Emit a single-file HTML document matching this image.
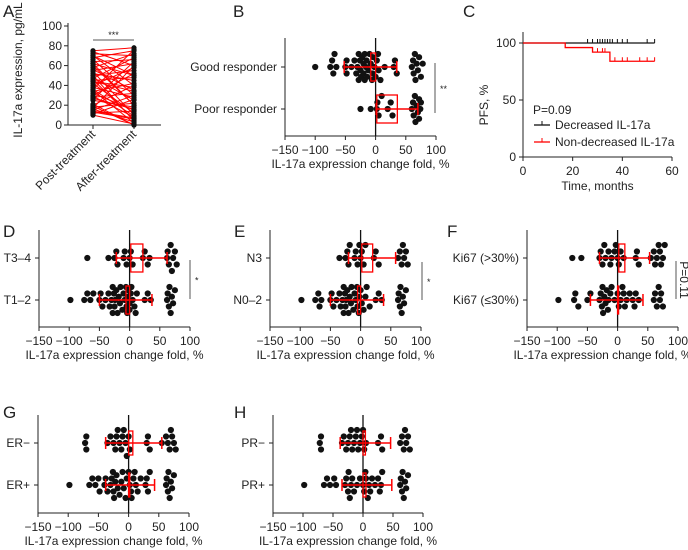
<!DOCTYPE html>
<html><head><meta charset="utf-8"><style>
html,body{margin:0;padding:0;background:#fff;}
svg{display:block;font-family:"Liberation Sans",Arial,sans-serif;}
</style></head><body>
<svg id="fig" width="688" height="550" viewBox="0 0 688 550" xmlns="http://www.w3.org/2000/svg"></svg>
<script>
// ---------- DATA ----------
const aPost  = [75,74,72,70,68,66,64,62,60,58,56,55,54,52,50,48,47,46,45,44,42,40,38,36,35,34,32,30,29,28,26,25,20,19,18,17,16,15,13,12,11,10,70,62,50,44,36,27,21,14];
const aAfter = [78,60,70,40,75,30,66,50,20,72,35,62,10,45,55,25,68,5,48,38,12,58,28,76,2,42,15,52,8,32,64,18,40,0,22,60,3,30,6,14,26,1,50,20,4,34,9,16,0,7];
const tickVals = [-150,-100,-50,0,50,100];
const bGood = [-100,-75,-72,-70,-68,-65,-50,-48,-48,-40,-35,-32,-30,-28,-28,-26,-25,-24,-22,-20,-20,-18,-18,-16,-15,-14,-12,-10,-8,-6,-5,-4,-2,0,2,4,5,8,15,30,32,35,60,62,63,65,66,68,70,72,75,78];
const bPoor = [-25,-8,2,3,5,10,20,25,28,60,62,63,65,66,68,70,72,72,74,75];
const dT34 = [-70,-35,-25,-22,-20,-10,-8,-5,0,2,5,22,25,30,33,62,63,65,68,70,72,75,78];
const dT12 = [-98,-75,-70,-65,-60,-50,-48,-45,-40,-35,-33,-30,-28,-28,-26,-25,-24,-22,-20,-18,-16,-15,-12,-10,-8,-6,-5,-4,-3,-2,0,0,2,3,5,8,10,12,25,30,35,62,63,65,66,68,70,72,75];
const eN3 = [-35,-25,-22,-20,-18,-10,-8,-5,-2,0,2,5,8,22,25,30,62,65,68,70,72,75,78];
const eN02 = [-98,-75,-70,-68,-65,-50,-48,-45,-40,-35,-33,-30,-28,-28,-26,-25,-24,-22,-20,-18,-16,-15,-12,-10,-8,-6,-5,-3,-2,0,2,5,8,10,15,25,30,35,62,63,65,66,68,70,72,75];
const fHigh = [-75,-60,-30,-28,-25,-22,-20,-15,-12,-10,-5,-3,0,2,5,10,30,32,35,55,60,62,65,68,70,72,75,78];
const fLow = [-98,-72,-70,-65,-50,-45,-30,-28,-26,-25,-24,-22,-20,-18,-16,-15,-12,-10,-5,0,2,5,8,10,12,15,20,25,28,30,35,60,62,65,68,70,72,75];
const gNeg = [-72,-70,-70,-35,-30,-25,-22,-20,-18,-15,-12,-10,-8,-5,-3,0,2,30,32,35,55,62,65,68,70,72,75,78];
const gPos = [-98,-65,-60,-55,-50,-48,-40,-38,-35,-30,-28,-26,-25,-24,-22,-20,-18,-15,-12,-10,-8,-5,-3,0,2,4,5,8,10,12,15,20,28,30,32,35,62,63,65,66,68,70,72,75];
const hNeg = [-72,-70,-70,-35,-32,-28,-25,-22,-20,-18,-15,-12,-10,-8,-5,-2,0,2,5,25,30,32,62,65,68,70,72,75,78];
const hPos = [-98,-65,-60,-55,-48,-45,-30,-28,-25,-24,-22,-20,-18,-15,-10,-5,0,2,4,5,8,10,12,15,20,25,28,30,32,62,63,65,66,68,70,72,75];
// box/whisker summaries: [boxLo, boxHi, whiskLo, whiskHi]
const bGoodSum=[-8,0,-52,35], bPoorSum=[2,36,1,70];
const dT34Sum=[2,22,-22,62], dT12Sum=[-6,0,-50,37];
const eN3Sum=[2,20,-20,58], eN02Sum=[-5,0,-50,38];
const fHighSum=[2,12,-30,53], fLowSum=[0,1,-45,42];
const gNegSum=[0,7,-38,55], gPosSum=[0,2,-38,43];
const hNegSum=[0,4,-38,46], hPosSum=[0,5,-35,48];
// KM
const kmBlackCensor=[26,28,30,31,32,33,34,35,36,38,40,42,50,53];
const kmRedTimes=[0,17,28,35], kmRedVals=[100,96,92,84], kmRedEnd=53;
const kmRedCensor=[30,32,33,37,40,42,47,50,53];

// ---------- DRAW ----------
const NS="http://www.w3.org/2000/svg";
const svg=document.getElementById('fig');
function el(tag,attrs,parent,text){const e=document.createElementNS(NS,tag);for(const k in attrs)e.setAttribute(k,attrs[k]);if(text!==undefined)e.textContent=text;(parent||svg).appendChild(e);return e;}
const TXT='#222';

function panelLetter(t,x,y){const e=el('text',{x:x,y:y,'font-size':17,fill:TXT},svg,t);

}

// Panel A
(function(){
 const g=el('g',{});
 
 
 const X0=68,X1=161,Y0=125,Y100=26,xp=93,xa=134;
 const ys=v=>Y0+(Y100-Y0)*v/100;
 el('line',{x1:X0,y1:Y100-3,x2:X0,y2:Y0,stroke:'#222','stroke-width':1},g);
 el('line',{x1:X0,y1:Y0,x2:X1,y2:Y0,stroke:'#222','stroke-width':1},g);
 [0,20,40,60,80,100].forEach(v=>{el('line',{x1:X0-4,y1:ys(v),x2:X0,y2:ys(v),stroke:'#222'},g);
  const t=el('text',{x:X0-6,y:ys(v)+4,'text-anchor':'end','font-size':12,fill:TXT},g,v);
  });
 [xp,xa].forEach(x=>el('line',{x1:x,y1:Y0,x2:x,y2:Y0+4,stroke:'#222'},g));
 for(let i=0;i<aPost.length;i++){
  const l=el('line',{x1:xp,y1:ys(aPost[i]),x2:xa,y2:ys(aAfter[i]),stroke:'#f00','stroke-width':1},g);
  }
 aPost.forEach(v=>{const c=el('circle',{cx:xp,cy:ys(v),r:2.6,fill:'#111'},g);});
 aAfter.forEach(v=>{const c=el('circle',{cx:xa,cy:ys(v),r:2.6,fill:'#111'},g);});
 el('line',{x1:xp,y1:40,x2:xa,y2:40,stroke:'#555'},g);
 el('text',{x:(xp+xa)/2,y:38,'text-anchor':'middle','font-size':9,fill:TXT},g,'***');
 const yt=el('text',{transform:'translate(22,70) rotate(-90)','text-anchor':'middle','font-size':12,fill:TXT},g,'IL-17a expression, pg/mL');
 
 [['Post-treatment',xp],['After-treatment',xa]].forEach(([s,x])=>{
  const t=el('text',{transform:`translate(${x+3},${Y0+10}) rotate(-45)`,'text-anchor':'end','font-size':12,fill:TXT},g,s);
  });
})();
panelLetter('A',3,17);

// beeswarm layout with bounded vertical spread
function swarm(vals,sx,r){
 const pts=[];const sorted=[...vals].sort((a,b)=>a-b);
 const offs=[0,-6.5,6.5,-13,13,-3.3,3.3,-9.8,9.8];
 sorted.forEach(v=>{const x=sx(v);let best=0,bestD=-1;
  for(const o of offs){
   let md=1e9;pts.forEach(p=>{const d=Math.hypot(p.x-x,p.y-o);if(d<md)md=d;});
   if(md>=2*r-0.3){best=o;bestD=md;break;}
   if(md>bestD){bestD=md;best=o;}
  }
  pts.push({x:x,y:best});});
 return pts;}

function dotPanel(cfg){
 const g=el('g',{});
 
 
 const sx=v=>cfg.x0+(v+150)/250*(cfg.x1-cfg.x0);
 el('line',{x1:cfg.x0,y1:cfg.top,x2:cfg.x0,y2:cfg.base,stroke:'#222'},g);
 el('line',{x1:cfg.x0,y1:cfg.base,x2:cfg.x1,y2:cfg.base,stroke:'#222'},g);
 tickVals.forEach(v=>{el('line',{x1:sx(v),y1:cfg.base,x2:sx(v),y2:cfg.base+4,stroke:'#222'},g);
  const t=el('text',{x:sx(v),y:cfg.base+18,'text-anchor':'middle','font-size':12,fill:TXT},g,v<0?'\u2212'+(-v):v);
  });
 const xt=el('text',{x:(cfg.x0+cfg.x1)/2,y:cfg.base+32,'text-anchor':'middle','font-size':12,fill:TXT},g,'IL-17a expression change fold, %');
 
 el('line',{x1:sx(0),y1:cfg.top,x2:sx(0),y2:cfg.base,stroke:'#111','stroke-width':1.3},g);
 cfg.rows.forEach(row=>{
  el('line',{x1:cfg.x0-4,y1:row.y,x2:cfg.x0,y2:row.y,stroke:'#222'},g);
  const t=el('text',{x:cfg.x0-8,y:row.y+4,'text-anchor':'end','font-size':12,fill:TXT},g,row.label);
  
  swarm(row.vals,sx,3.1).forEach(p=>{const c=el('circle',{cx:p.x,cy:row.y+p.y,r:3.1,fill:'#111'},g);
   });
  const s=row.sum,h=cfg.bh;
  const b=el('rect',{x:sx(s[0]),y:row.y-h,width:Math.max(1,sx(s[1])-sx(s[0])),height:2*h,fill:'none',stroke:'#f00','stroke-width':1.3},g);
  
  const w=el('line',{x1:sx(s[2]),y1:row.y,x2:sx(s[3]),y2:row.y,stroke:'#f00','stroke-width':1.5},g);
  
  [s[2],s[3]].forEach(v=>el('line',{x1:sx(v),y1:row.y-6,x2:sx(v),y2:row.y+6,stroke:'#f00','stroke-width':1.5},g));
 });
 if(cfg.sig){const q=cfg.sig;
  el('line',{x1:q.x,y1:q.y1,x2:q.x,y2:q.y2,stroke:'#555'},g);
  if(q.rot){const t=el('text',{transform:`translate(${q.x+4},${(q.y1+q.y2)/2}) rotate(90)`,'text-anchor':'middle','font-size':12,fill:TXT},g,q.text);}
  else {const t=el('text',{x:q.x+5,y:(q.y1+q.y2)/2+4,'font-size':9,fill:TXT},g,q.text);}
 }
}
dotPanel({name:'panel-b-responder',x0:285,x1:436,top:38,base:136,bh:14,rows:[{label:'Good responder',y:67,vals:bGood,sum:bGoodSum},{label:'Poor responder',y:109,vals:bPoor,sum:bPoorSum}],sig:{x:435,y1:63,y2:113,text:'**'}});
dotPanel({name:'panel-d-t-stage',x0:39,x1:190,top:230,base:327,bh:14,rows:[{label:'T3\u20134',y:258,vals:dT34,sum:dT34Sum},{label:'T1\u20132',y:300,vals:dT12,sum:dT12Sum}],sig:{x:190,y1:260,y2:299,text:'*'}});
dotPanel({name:'panel-e-n-stage',x0:270,x1:421,top:230,base:327,bh:14,rows:[{label:'N3',y:258,vals:eN3,sum:eN3Sum},{label:'N0\u20132',y:300,vals:eN02,sum:eN02Sum}],sig:{x:422,y1:262,y2:300,text:'*'}});
dotPanel({name:'panel-f-ki67',x0:527,x1:678,top:230,base:327,bh:14,rows:[{label:'Ki67 (>30%)',y:258,vals:fHigh,sum:fHighSum},{label:'Ki67 (\u226430%)',y:300,vals:fLow,sum:fLowSum}],sig:{x:676,y1:261,y2:299,text:'P=0.11',rot:true}});
dotPanel({name:'panel-g-er',x0:38,x1:189,top:415,base:513,bh:12,rows:[{label:'ER\u2212',y:443,vals:gNeg,sum:gNegSum},{label:'ER+',y:485,vals:gPos,sum:gPosSum}]});
dotPanel({name:'panel-h-pr',x0:273,x1:423,top:415,base:513,bh:12,rows:[{label:'PR\u2212',y:443,vals:hNeg,sum:hNegSum},{label:'PR+',y:485,vals:hPos,sum:hPosSum}]});
panelLetter('B',233,17);panelLetter('C',463,17);
panelLetter('D',3,237);panelLetter('E',234,237);panelLetter('F',447,237);
panelLetter('G',3,418);panelLetter('H',234,418);

// Panel C KM
(function(){
 const g=el('g',{});
 
 
 const X0=523,X60=672,Y0=157,Y100=43;
 const sx=t=>X0+(X60-X0)*t/60, sy=v=>Y0+(Y100-Y0)*v/100;
 el('line',{x1:X0,y1:32,x2:X0,y2:Y0,stroke:'#222'},g);
 el('line',{x1:X0,y1:Y0,x2:X60,y2:Y0,stroke:'#222'},g);
 [0,50,100].forEach(v=>{el('line',{x1:X0-4,y1:sy(v),x2:X0,y2:sy(v),stroke:'#222'},g);
  const t=el('text',{x:X0-7,y:sy(v)+4,'text-anchor':'end','font-size':12,fill:TXT},g,v);});
 [0,20,40,60].forEach(v=>{el('line',{x1:sx(v),y1:Y0,x2:sx(v),y2:Y0+4,stroke:'#222'},g);
  const t=el('text',{x:sx(v),y:Y0+18,'text-anchor':'middle','font-size':12,fill:TXT},g,v);});
 const xt=el('text',{x:(X0+X60)/2,y:Y0+33,'text-anchor':'middle','font-size':12,fill:TXT},g,'Time, months');
 const yt=el('text',{transform:`translate(488,${(Y0+Y100)/2+5}) rotate(-90)`,'text-anchor':'middle','font-size':12,fill:TXT},g,'PFS, %');
 const bl=el('line',{x1:sx(0),y1:sy(100),x2:sx(53),y2:sy(100),stroke:'#111','stroke-width':1.3},g);
 
 kmBlackCensor.forEach(t=>el('line',{x1:sx(t),y1:sy(100)-4,x2:sx(t),y2:sy(100),stroke:'#111'},g));
 let d=`M${sx(0)},${sy(kmRedVals[0])}`;
 for(let i=1;i<kmRedTimes.length;i++){d+=` H${sx(kmRedTimes[i])} V${sy(kmRedVals[i])}`;}
 d+=` H${sx(kmRedEnd)}`;
 const rp=el('path',{d:d,fill:'none',stroke:'#f00','stroke-width':1.3},g);
 
 const valAt=t=>{let v=kmRedVals[0];kmRedTimes.forEach((tt,i)=>{if(t>=tt)v=kmRedVals[i];});return v;};
 kmRedCensor.forEach(t=>el('line',{x1:sx(t),y1:sy(valAt(t))-4,x2:sx(t),y2:sy(valAt(t)),stroke:'#f00'},g));
 const pv=el('text',{x:533,y:114,'font-size':12,fill:TXT},g,'P=0.09');
 [['Decreased IL-17a','#111',129],['Non-decreased IL-17a','#f00',146]].forEach(([s,c,y])=>{
  el('line',{x1:534,y1:y-4,x2:550,y2:y-4,stroke:c,'stroke-width':1.3},g);
  el('line',{x1:542,y1:y-8,x2:542,y2:y-4,stroke:c},g);
  const t=el('text',{x:555,y:y,'font-size':12,fill:TXT},g,s);});
})();
</script>
</body></html>
